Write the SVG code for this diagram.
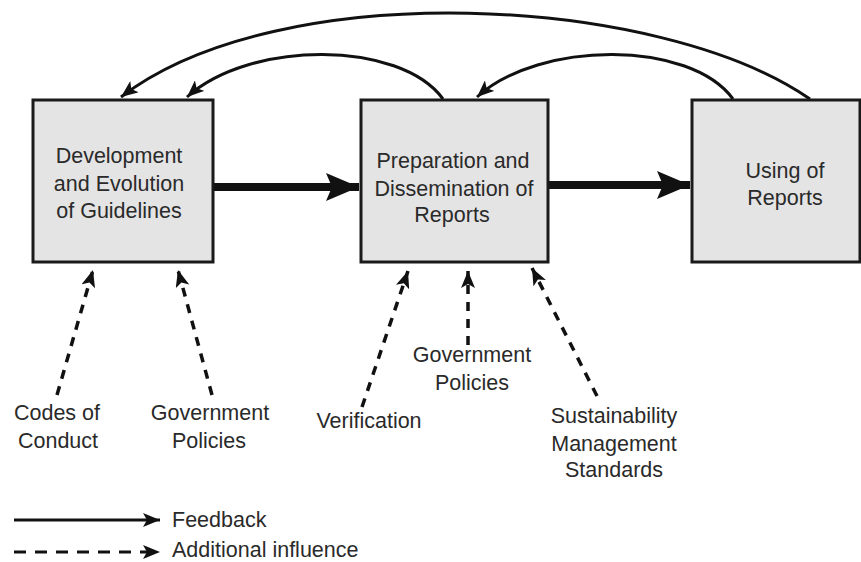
<svg xmlns="http://www.w3.org/2000/svg" width="861" height="562" viewBox="0 0 861 562">
<defs>
<style>
.box{fill:#e4e4e4;stroke:#1a1a1a;stroke-width:3}
.t{font-family:"Liberation Sans",Arial,sans-serif;font-size:21.5px;fill:#2a2a2a;text-anchor:middle}
.tl{font-family:"Liberation Sans",Arial,sans-serif;font-size:21.5px;fill:#2a2a2a}
.fb{fill:none;stroke:#111;stroke-width:3}
.main{fill:none;stroke:#111;stroke-width:8}
.dash{fill:none;stroke:#111;stroke-width:3.5;stroke-dasharray:9 8}
</style>
<marker id="ah" markerUnits="userSpaceOnUse" markerWidth="18" markerHeight="14" refX="17" refY="7" orient="auto">
<path d="M0,0 L17,7 L0,14 L4,7 z" fill="#111"/>
</marker>
<marker id="big" markerUnits="userSpaceOnUse" markerWidth="34" markerHeight="28" refX="33" refY="14" orient="auto">
<path d="M0,0 L33,14 L0,28 L6,14 z" fill="#111"/>
</marker>
</defs>
<rect width="861" height="562" fill="#fff"/>
<g id="connectors">
<path class="fb" d="M810 99 C660 -5,280 -25,121 97" marker-end="url(#ah)"/>
<path class="fb" d="M443 99 C400 40,250 40,187 97" marker-end="url(#ah)"/>
<path class="fb" d="M733 99 C690 40,540 40,477 97" marker-end="url(#ah)"/>
<line class="main" x1="214" y1="187" x2="359" y2="187" marker-end="url(#big)"/>
<line class="main" x1="549" y1="185" x2="690" y2="185" marker-end="url(#big)"/>
<line class="dash" x1="57" y1="395" x2="93" y2="270" marker-end="url(#ah)"/>
<line class="dash" x1="212" y1="395" x2="178" y2="270" marker-end="url(#ah)"/>
<line class="dash" x1="362" y1="407" x2="408" y2="271" marker-end="url(#ah)"/>
<line class="dash" x1="468" y1="345" x2="468" y2="271" marker-end="url(#ah)"/>
<line class="dash" x1="597" y1="396" x2="532" y2="268" marker-end="url(#ah)"/>
</g>
<g id="node-development">
<rect class="box" x="33" y="100" width="180" height="162"/>
<text class="t" x="119" y="163">Development</text>
<text class="t" x="119" y="191">and Evolution</text>
<text class="t" x="119" y="218">of Guidelines</text>
</g>
<g id="node-preparation">
<rect class="box" x="361" y="100" width="187" height="162"/>
<text class="t" x="453" y="168">Preparation and</text>
<text class="t" x="454" y="196">Dissemination of</text>
<text class="t" x="452" y="222">Reports</text>
</g>
<g id="node-using">
<rect class="box" x="692" y="100" width="168" height="162"/>
<text class="t" x="785" y="178">Using of</text>
<text class="t" x="785" y="205">Reports</text>
</g>
<g id="label-codes">
<text class="t" x="57" y="420">Codes of</text>
<text class="t" x="58" y="448">Conduct</text>
</g>
<g id="label-gov1">
<text class="t" x="210" y="420">Government</text>
<text class="t" x="209" y="448">Policies</text>
</g>
<g id="label-verification">
<text class="t" x="369" y="428">Verification</text>
</g>
<g id="label-gov2">
<text class="t" x="472" y="362">Government</text>
<text class="t" x="472" y="390">Policies</text>
</g>
<g id="label-sustainability">
<text class="t" x="614" y="423">Sustainability</text>
<text class="t" x="614" y="451">Management</text>
<text class="t" x="614" y="477">Standards</text>
</g>
<g id="legend">
<line class="fb" x1="14" y1="520" x2="160" y2="520" marker-end="url(#ah)"/>
<text class="tl" x="172" y="527">Feedback</text>
<line class="dash" x1="14" y1="552" x2="160" y2="552" style="stroke-width:3;stroke-dasharray:12 9" marker-end="url(#ah)"/>
<text class="tl" x="172" y="557">Additional influence</text>
</g>
</svg>
